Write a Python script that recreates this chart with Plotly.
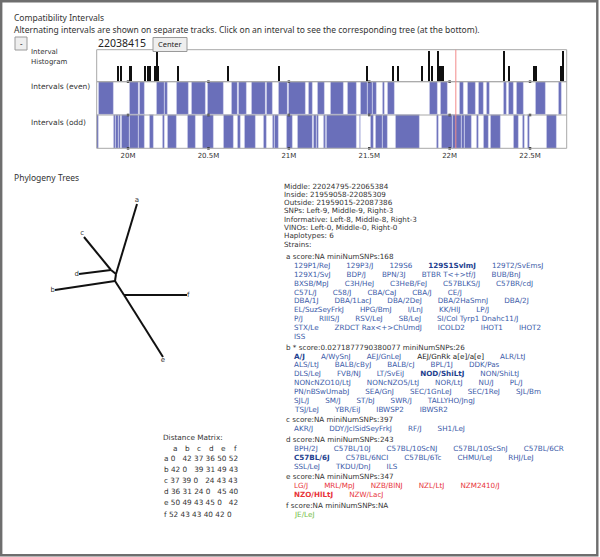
import plotly.graph_objects as go

W, H = 600, 557

# ---- interval tracks (genomic positions in Mb) ----
tick_vals = [20.0, 20.5, 21.0, 21.5, 22.0, 22.5]
tick_text = ["20M", "20.5M", "21M", "21.5M", "22M", "22.5M"]
view_range = [19.805, 22.728]
selected_pos = 22.038415

hist_pos = [19.936, 19.955, 20.008, 20.017, 20.106, 20.120, 20.137, 20.168, 20.175, 20.180,
            20.188, 20.309, 20.620, 20.939, 21.482, 21.648, 21.675, 21.830, 21.868, 21.889,
            21.926, 21.934, 21.945, 21.955, 22.338, 22.369, 22.525, 22.537, 22.693, 22.703]
hist_count = [1, 1, 1, 1, 1, 1, 1, 1, 1, 2,
              1, 1, 1, 1, 1, 1, 1, 1, 2, 1,
              2, 1, 1, 1, 2, 1, 1, 1, 1, 2]

even_intervals = [
    (19.820, 19.913), (20.012, 20.064), (20.070, 20.101), (20.180, 20.230), (20.230, 20.247),
    (20.303, 20.375), (20.396, 20.485), (20.498, 20.593), (20.645, 20.682), (20.690, 20.738),
    (20.771, 20.858), (20.864, 20.902), (20.939, 20.991), (20.999, 21.105), (21.126, 21.150),
    (21.177, 21.223), (21.261, 21.341), (21.368, 21.424), (21.445, 21.493), (21.493, 21.519),
    (21.519, 21.549), (21.581, 21.596), (21.617, 21.659), (21.878, 21.923), (21.945, 21.986),
    (22.060, 22.085), (22.110, 22.164), (22.183, 22.214), (22.231, 22.251), (22.334, 22.355),
    (22.369, 22.400), (22.417, 22.458), (22.537, 22.600), (22.676, 22.697),
]
odd_intervals = [
    (19.806, 19.820), (19.913, 19.924), (19.924, 19.940), (19.940, 19.955), (19.961, 20.012),
    (20.012, 20.064), (20.064, 20.101), (20.132, 20.157), (20.216, 20.230), (20.247, 20.303),
    (20.371, 20.423), (20.462, 20.535), (20.597, 20.655), (20.682, 20.701), (20.728, 20.794),
    (20.846, 20.864), (20.897, 20.912), (20.912, 20.939), (20.984, 21.026), (21.053, 21.146),
    (21.157, 21.171), (21.171, 21.188), (21.219, 21.229), (21.229, 21.237), (21.237, 21.420),
    (21.441, 21.447), (21.507, 21.528), (21.540, 21.581), (21.581, 21.617), (21.667, 21.816),
    (21.920, 21.934), (21.953, 22.019), (22.019, 22.075), (22.075, 22.091), (22.091, 22.137),
    (22.169, 22.183), (22.210, 22.241), (22.256, 22.318), (22.400, 22.432), (22.455, 22.469),
    (22.483, 22.500), (22.604, 22.666),
]
track_rows = {"even": 1, "odd": 0}

# ---- phylogeny tree (layout) ----
tree_nodes = {
    "a": (137, 204), "c": (84, 237), "d": (79, 274), "b": (55, 290),
    "f": (187, 295), "e": (163, 357),
    "n1": (111, 270), "n2": (116, 274), "n3": (115, 281), "n4": (124, 295),
}
tree_edges = [("a", "n2"), ("c", "n1"), ("d", "n1"), ("n1", "n2"), ("n2", "n3"),
              ("b", "n3"), ("n3", "n4"), ("n4", "f"), ("n4", "e")]
leaf_pos = {"a": "top center", "c": "top left", "d": "middle left",
            "b": "middle left", "f": "middle right", "e": "bottom center"}

# ---- interval details ----
info_lines = ["Middle: 22024795-22065384", "Inside: 21959058-22085309",
              "Outside: 21959015-22087386", "SNPs: Left-9, Middle-9, Right-3",
              "Informative: Left-8, Middle-8, Right-3", "VINOs: Left-0, Middle-0, Right-0",
              "Haplotypes: 6", "Strains:"]

group_headers = ["a score:NA miniNumSNPs:168",
                 "b * score:0.0271877790380077 miniNumSNPs:26",
                 "c score:NA miniNumSNPs:397",
                 "d score:NA miniNumSNPs:243",
                 "e score:NA miniNumSNPs:347",
                 "f score:NA miniNumSNPs:NA"]
strains_a = ["129P1/ReJ", "129P3/J", "129S6", "129S1SvlmJ", "129T2/SvEmsJ",
             "129X1/SvJ", "BDP/J", "BPN/3J", "BTBR T<+>tf/J", "BUB/BnJ",
             "BXSB/MpJ", "C3H/HeJ", "C3HeB/FeJ", "C57BLKS/J", "C57BR/cdJ",
             "C57L/J", "C58/J", "CBA/CaJ", "CBA/J", "CE/J",
             "DBA/1J", "DBA/1LacJ", "DBA/2DeJ", "DBA/2HaSmnJ", "DBA/2J",
             "EL/SuzSeyFrkJ", "HPG/BmJ", "I/LnJ", "KK/HlJ", "LP/J",
             "P/J", "RIIIS/J", "RSV/LeJ", "SB/LeJ", "SI/Col Tyrp1 Dnahc11/J",
             "STX/Le", "ZRDCT Rax<+>ChUmdJ", "ICOLD2", "IHOT1", "IHOT2",
             "ISS"]
strains_b = ["A/J", "A/WySnJ", "AEJ/GnLeJ", "AEJ/GnRk a[e]/a[e]", "ALR/LtJ",
             "ALS/LtJ", "BALB/cByJ", "BALB/cJ", "BPL/1J", "DDK/Pas",
             "DLS/LeJ", "FVB/NJ", "LT/SvEiJ", "NOD/ShiLtJ", "NON/ShiLtJ",
             "NONcNZO10/LtJ", "NONcNZO5/LtJ", "NOR/LtJ", "NU/J", "PL/J",
             "PN/nBSwUmabJ", "SEA/GnJ", "SEC/1GnLeJ", "SEC/1ReJ", "SJL/Bm",
             "SJL/J", "SM/J", "ST/bJ", "SWR/J", "TALLYHO/JngJ",
             "TSJ/LeJ", "YBR/EiJ", "IBWSP2", "IBWSR2"]
strains_c = ["AKR/J", "DDY/JclSidSeyFrkJ", "RF/J", "SH1/LeJ"]
strains_d = ["BPH/2J", "C57BL/10J", "C57BL/10ScNJ", "C57BL/10ScSnJ", "C57BL/6CR",
             "C57BL/6J", "C57BL/6NCI", "C57BL/6Tc", "CHMU/LeJ", "RHJ/LeJ",
             "SSL/LeJ", "TKDU/DnJ", "ILS"]
strains_e = ["LG/J", "MRL/MpJ", "NZB/BlNJ", "NZL/LtJ", "NZM2410/J", "NZO/HlLtJ", "NZW/LacJ"]
strains_f = ["JE/LeJ"]
bold_strains = {"129S1SvlmJ", "A/J", "NOD/ShiLtJ", "C57BL/6J", "NZO/HlLtJ"}
plain_strains = {"AEJ/GnRk a[e]/a[e]"}

dist_labels = ["a", "b", "c", "d", "e", "f"]
dist_matrix = [[0, 42, 37, 36, 50, 52],
               [42, 0, 39, 31, 49, 43],
               [37, 39, 0, 24, 43, 43],
               [36, 31, 24, 0, 45, 40],
               [50, 49, 43, 45, 0, 42],
               [52, 43, 43, 40, 42, 0]]

# ---- styling ----
TEXT = "#333333"
BLUE = "#3a5aa8"
BLUE_BOLD = "#243f8f"
RED = "#e8343a"
GREEN = "#74be48"
TRACK_BLUE = "#6a6fba"
BODY = "DejaVu Sans"
UI = "Noto Sans"
NB = "\u00a0"


def px(x):
    return x / W


def py(y):
    return 1 - y / H


fig = go.Figure()

# histogram
fig.add_trace(go.Bar(x=hist_pos, y=hist_count, width=0.008, marker_color="#111111",
                     marker_line_width=0, xaxis="x", yaxis="y", hoverinfo="skip"))

# interval tracks
for name, ivs in (("even", even_intervals), ("odd", odd_intervals)):
    starts = [s for s, e in ivs]
    lengths = [e - s for s, e in ivs]
    fig.add_trace(go.Bar(orientation="h", base=starts, x=lengths,
                         y=[track_rows[name]] * len(ivs), width=1.0,
                         marker=dict(color=TRACK_BLUE, line=dict(color="rgba(225,227,247,0.9)", width=0.6)),
                         xaxis="x", yaxis="y2", hoverinfo="skip"))

# tick dots on track borders
dot_x = [t for t in tick_vals for _ in range(3)]
dot_y = [b for _ in tick_vals for b in (-0.5, 0.5, 1.5)]
fig.add_trace(go.Scatter(x=dot_x, y=dot_y, mode="markers", xaxis="x", yaxis="y2",
                         marker=dict(size=2.5, color="#222222", symbol="square"),
                         cliponaxis=False, hoverinfo="skip"))

# tree
for u, v in tree_edges:
    (x0, y0), (x1, y1) = tree_nodes[u], tree_nodes[v]
    fig.add_trace(go.Scatter(x=[x0, x1], y=[y0, y1], mode="lines", xaxis="x3", yaxis="y3",
                             line=dict(color="#111111", width=2), hoverinfo="skip"))
leaves = list(leaf_pos)
fig.add_trace(go.Scatter(x=[tree_nodes[k][0] for k in leaves], y=[tree_nodes[k][1] for k in leaves],
                         mode="text", text=leaves, textposition=[leaf_pos[k] for k in leaves],
                         textfont=dict(family=BODY, size=7, color=TEXT),
                         xaxis="x3", yaxis="y3", hoverinfo="skip", cliponaxis=False))

hist_dom = [py(81.7), py(49.7)]
track_dom = [py(148.3), py(81.7)]

fig.update_layout(
    width=W, height=H, autosize=False,
    margin=dict(l=0, r=0, t=0, b=0),
    paper_bgcolor="white", plot_bgcolor="rgba(0,0,0,0)",
    showlegend=False, barmode="overlay", bargap=0,
    xaxis=dict(domain=[px(96.7), px(566.7)], range=view_range, anchor="y2",
               tickvals=tick_vals, ticktext=tick_text, showgrid=False, zeroline=False,
               showline=False, ticks="", ticklabelstandoff=2,
               tickfont=dict(family=BODY, size=7, color=TEXT), fixedrange=True),
    yaxis=dict(domain=hist_dom, range=[0, 2.05], anchor="x", visible=False),
    yaxis2=dict(domain=track_dom, range=[-0.5, 1.5], anchor="x", visible=False),
    xaxis3=dict(domain=[0, 1], range=[0, W], anchor="y3", visible=False),
    yaxis3=dict(domain=[0, 1], range=[H, 0], anchor="x3", visible=False),
)

shapes = []
# outer frame
shapes.append(dict(type="rect", xref="paper", yref="paper", x0=px(1.2), x1=px(597.3),
                   y0=py(555.3), y1=py(1.2), line=dict(color="#6e6e6e", width=2.4)))
# track boxes
for yr in ("y domain", "y2 domain"):
    shapes.append(dict(type="rect", xref="x domain", yref=yr, x0=0, x1=1, y0=0, y1=1,
                       line=dict(color="#a8a8a8", width=1), layer="above"))
shapes.append(dict(type="line", xref="x domain", yref="y2", x0=0, x1=1, y0=0.5, y1=0.5,
                   line=dict(color="#a8a8a8", width=1), layer="above"))
# selected position
shapes.append(dict(type="line", xref="x", yref="paper", x0=selected_pos, x1=selected_pos,
                   y0=track_dom[0], y1=hist_dom[1], line=dict(color="#f28b8b", width=1),
                   layer="above"))
# buttons
shapes.append(dict(type="rect", xref="paper", yref="paper", x0=px(15), x1=px(27),
                   y0=py(50), y1=py(37), fillcolor="#eeeeee", line=dict(color="#9a9a9a", width=1)))
shapes.append(dict(type="rect", xref="paper", yref="paper", x0=px(153), x1=px(187),
                   y0=py(51.5), y1=py(37.5), fillcolor="#eeeeee", line=dict(color="#9a9a9a", width=1)))
fig.update_layout(shapes=shapes)


def label(x, y, text, size=7.2, color=TEXT, family=BODY, anchor="left"):
    fig.add_annotation(x=px(x), y=py(y), xref="paper", yref="paper", text=text,
                       showarrow=False, xanchor=anchor, yanchor="middle", borderpad=0,
                       font=dict(size=size, color=color, family=family))


def esc(s):
    return s.replace("<", "&lt;").replace(">", "&gt;")


label(13, 18, "Compatibility Intervals", size=8.5, family=UI)
label(13, 30, "Alternating intervals are shown on separate tracks. Click on an interval "
              "to see the corresponding tree (at the bottom).", size=8.5, family=UI)
label(21, 43, "-", size=8, family=UI, anchor="center")
label(97, 42.5, "22038415", size=10.5, color="#222222", family=UI)
label(170, 44.5, "Center", size=7.5, color="#222222", family=UI, anchor="center")
label(30, 52, "Interval", size=7)
label(30, 61.7, "Histogram", size=7)
label(30, 87, "Intervals (even)", size=7.5)
label(30, 122, "Intervals (odd)", size=7.5)
label(13, 177, "Phylogeny Trees", size=8.5, family=UI)

# info block
y = 186
for line in info_lines:
    label(283, y, line)
    y += 8.33

# strain groups
groups = [strains_a, strains_b, strains_c, strains_d, strains_e, strains_f]
colors = [BLUE, BLUE, BLUE, BLUE, RED, GREEN]
y = 256.7
for header, names, col in zip(group_headers, groups, colors):
    label(285, y, header)
    y += 8.85
    for i in range(0, len(names), 5):
        parts = []
        for n in names[i:i + 5]:
            if n in plain_strains:
                parts.append(f"<span style='color:#222222'>{esc(n)}</span>")
            elif n in bold_strains:
                c = BLUE_BOLD if col == BLUE else col
                parts.append(f"<b><span style='color:{c}'>{esc(n)}</span></b>")
            else:
                parts.append(f"<span style='color:{col}'>{esc(n)}</span>")
        label(293, y, (NB * 7).join(parts), color=col)
        y += 8.85
    y += 1.95

# distance matrix
label(162, 437, "Distance Matrix:", size=7.3)
for j, lab in enumerate(dist_labels):
    label(175 + 12 * j, 448, lab, size=7.3, anchor="center")
for i, (lab, row) in enumerate(zip(dist_labels, dist_matrix)):
    cells = [str(v) + (NB * 2 if i == j else "") for j, v in enumerate(row)]
    label(163, 458.5 + 11.1 * i, lab + " " + " ".join(cells), size=7.3)

# the page is photographed at 600x557: drop the browser's default body margin
fig.write_html("out.html", config={"displayModeBar": False},
               post_script="document.body.style.margin='0';")
